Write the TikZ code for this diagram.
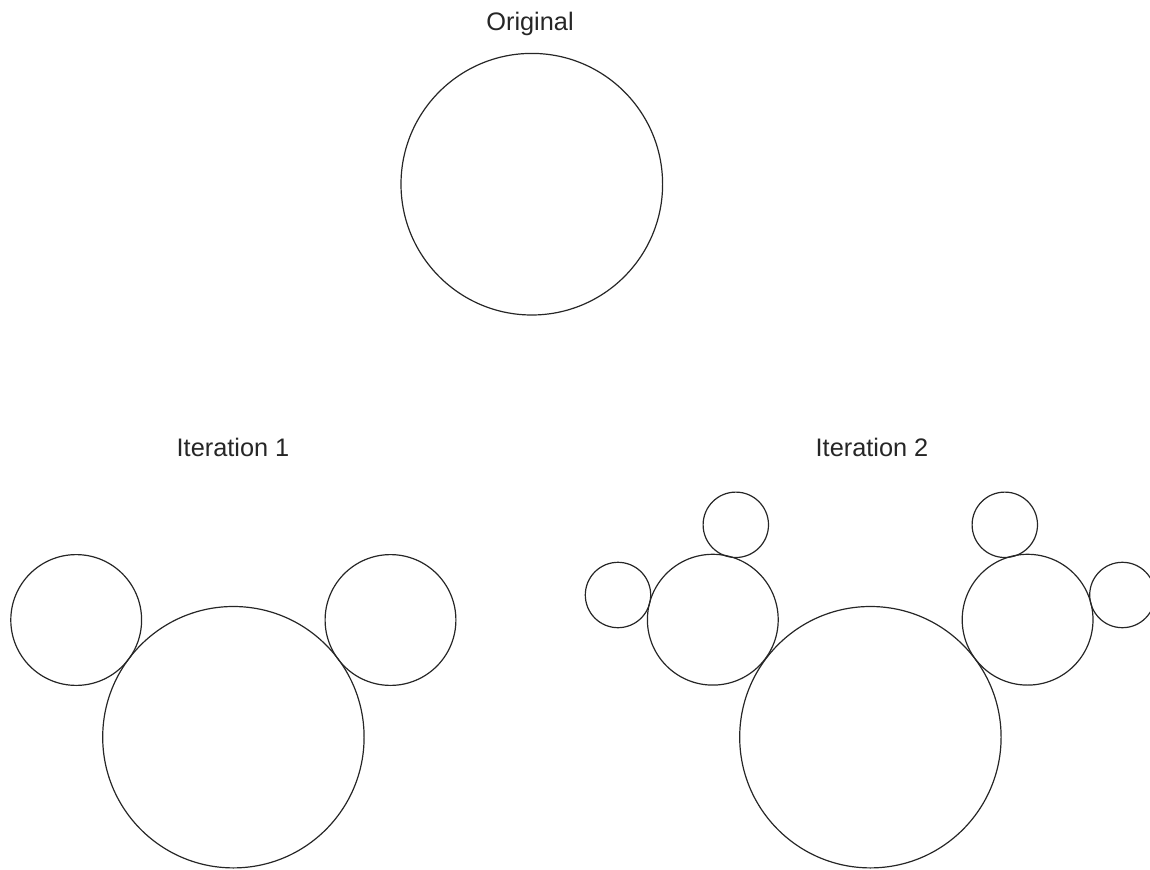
\documentclass[tikz,border=0pt]{standalone}
\usepackage{fontspec}
\setmainfont{Liberation Sans}
\begin{document}
\begin{tikzpicture}[x=0.75pt,y=-0.75pt,
  ring/.style={draw=black!85,line width=0.9pt},
  title/.style={anchor=base,font=\fontsize{19}{22}\selectfont,text=black!85,inner sep=0pt}]
\clip (0,0) rectangle (1150,870);
\useasboundingbox (0,0) rectangle (1150,870);
% Original
\node[title] (tOrig) at (530,30.7) {Original};
\draw[ring] (531.8,184.2) circle[radius=130.8];
% Iteration 1
\node[title] (tIt1) at (233,456.7) {Iteration 1};
\draw[ring] (233.4,737.2) circle[radius=130.7];
\draw[ring] (76.2,620) circle[radius=65.4];
\draw[ring] (390.5,620) circle[radius=65.4];
% Iteration 2
\node[title] (tIt2) at (872,456.7) {Iteration 2};
\draw[ring] (870.4,737.2) circle[radius=130.7];
\draw[ring] (712.8,619.7) circle[radius=65.4];
\draw[ring] (1027.6,619.7) circle[radius=65.4];
\draw[ring] (735.8,524.8) circle[radius=32.7];
\draw[ring] (618,595) circle[radius=32.7];
\draw[ring] (1004.8,524.8) circle[radius=32.7];
\draw[ring] (1122.4,595) circle[radius=32.7];
\end{tikzpicture}
\end{document}
